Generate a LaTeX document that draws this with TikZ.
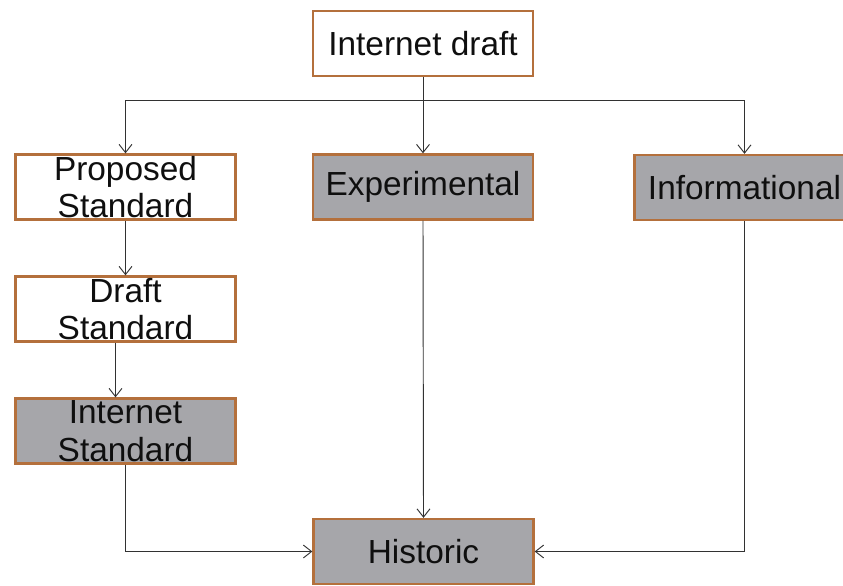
\documentclass[tikz,border=0pt]{standalone}
\usepackage{fontspec}
\setmainfont{Liberation Sans}
\usetikzlibrary{arrows.meta}
\definecolor{boxedge}{RGB}{180,112,60}
\definecolor{boxgray}{RGB}{166,166,170}
\definecolor{linec}{RGB}{50,50,50}
\definecolor{txt}{RGB}{15,15,15}
\tikzset{
  box/.style={draw=boxedge, line width=2pt, fill=white, minimum width=6.6cm, minimum height=1.95cm,
    inner sep=0pt, align=center, text=txt, font=\fontsize{28.5}{32}\selectfont},
  graybox/.style={box, fill=boxgray},
  conn/.style={draw=linec, line width=0.8pt, -{Straight Barb[length=7pt,width=11pt,line width=0.8pt]}}
}
\begin{document}
\begin{tikzpicture}[x=0.03cm,y=-0.03cm]
\useasboundingbox (0,0) rectangle (843,585);
\fill[white] (0,0) rectangle (843,585);
\node[box] (id) at (423,43.5) {Internet draft};
\node[box] (ps) at (125.5,187) {Proposed\\Standard};
\node[box] (ds) at (125.5,309) {Draft\\Standard};
\node[graybox] (is) at (125.5,431) {Internet\\Standard};
\node[graybox] (ex) at (423,187) {\raisebox{-0.1cm}{Experimental}};
\node[graybox] (inf) at (744.5,187.5) {Informational};
\node[graybox] (hi) at (423.5,551.5) {Historic};
\draw[conn] (id.south) -- (ex.north);
\draw[conn] (id.south) -- ++(0,23) -| (ps.north);
\draw[conn] (id.south) -- ++(0,23) -| (inf.north);
\draw[conn] (ps.south) -- (ds.north);
\draw[conn] ([xshift=-0.3cm]ds.south) -- ([xshift=-0.3cm]is.north);
\draw[conn] (is.south) |- (hi.west);
\draw[conn] (ex.south) -- (hi.north);
\draw[conn] (inf.south) |- (hi.east);
\end{tikzpicture}
\end{document}
